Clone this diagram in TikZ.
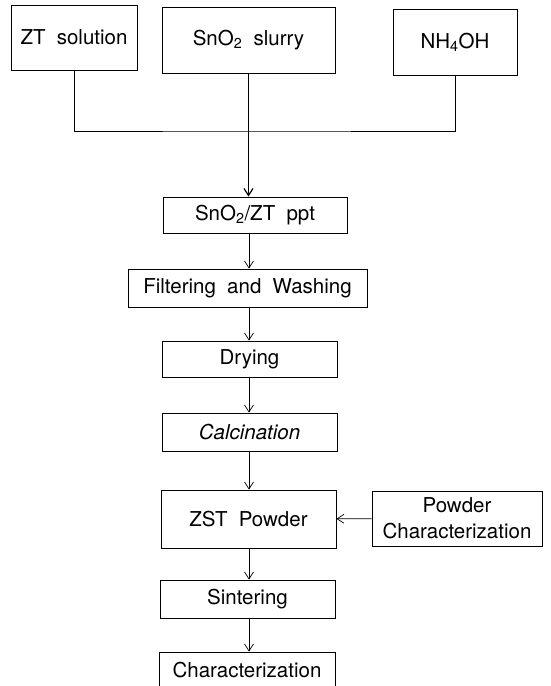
\documentclass[tikz,border=0pt]{standalone}
\usepackage{fontspec}
\setmainfont{TeX Gyre Heros}
\usetikzlibrary{arrows.meta, positioning, calc}
\newcommand{\widesp}{\spaceskip=0.55em\relax}
\newcommand{\stagebox}[5]{%
  \node[stage, minimum width=#3, minimum height=#4] (#1) at #2 {#5};
}

\begin{document}
\begin{tikzpicture}[x=1pt, y=-1pt, >={Straight Barb[length=7pt,width=9pt]},
    stage/.style={draw, line width=0.8pt, inner sep=0pt, align=center,
      font=\fontsize{20.5}{26}\selectfont\widesp},
    flow/.style={->, line width=0.7pt},
    feed/.style={line width=0.9pt}]
  \useasboundingbox (0,0) rectangle (551,686);
  % starting materials
  \stagebox{zt}{(74,37.5)}{126pt}{65pt}{ZT solution}
  \stagebox{slurry}{(248.5,40)}{173pt}{66pt}{SnO\textsubscript{2} slurry}
  \stagebox{nh}{(455,42)}{124pt}{66pt}{NH\textsubscript{4}OH}
  % process column
  \stagebox{ppt}{(255,215)}{184pt}{36pt}{SnO\textsubscript{2}/ZT ppt}
  \stagebox{filter}{(247.5,288)}{239pt}{38pt}{Filtering and Washing}
  \stagebox{dry}{(249.5,359)}{175pt}{36pt}{Drying}
  \stagebox{calc}{(249.5,432)}{175pt}{38pt}{\itshape Calcination}
  \stagebox{zst}{(248.5,519)}{175pt}{58pt}{ZST Powder}
  \stagebox{pchar}{(457,518.5)}{170pt}{55pt}{Powder\\Characterization}
  \stagebox{sint}{(247.5,599)}{175pt}{38pt}{Sintering}
  \stagebox{char}{(247,670)}{176pt}{36pt}{Characterization}
  \coordinate (col) at (249,0);
  \coordinate (join) at (249,131);
  \draw[feed] (zt.south) |- (join) -| (nh.south);
  \draw[flow, line width=1.2pt] (slurry.south) -- (ppt.north -| slurry.south);
  \foreach \a/\b in {ppt/filter, filter/dry, dry/calc, calc/zst, zst/sint, sint/char}
    \draw[flow] (\a.south -| col) -- (\b.north -| col);
  \draw[flow] (pchar) -- (zst);
\end{tikzpicture}
\end{document}
